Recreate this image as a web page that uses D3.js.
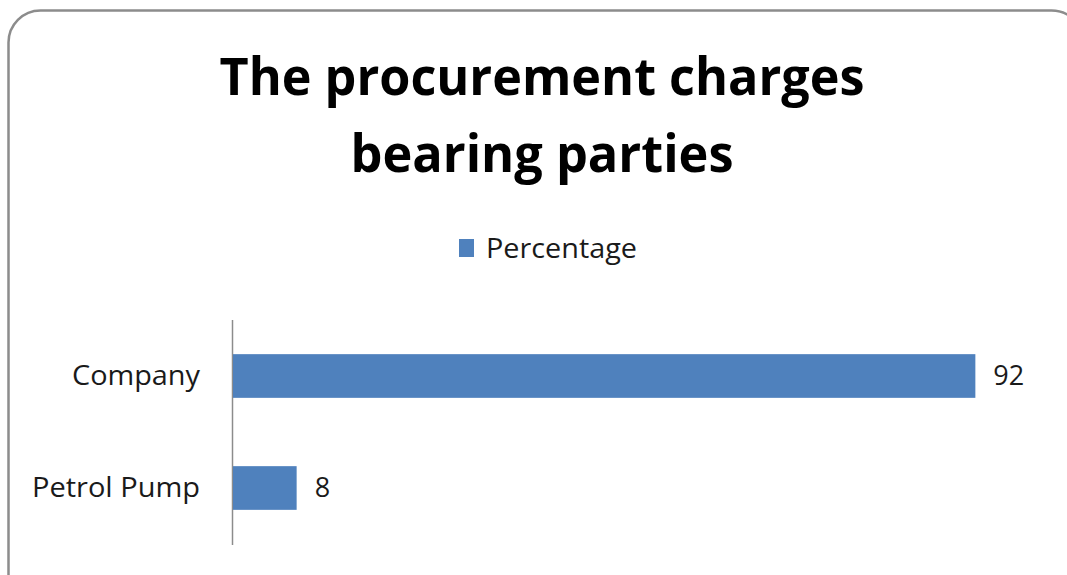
<!DOCTYPE html>
<html lang="en">
<head>
  <meta charset="UTF-8">
  <title>The procurement charges bearing parties</title>
  <style>
    body { margin: 0; padding: 0; background: #fff; }
    svg { display: block; font-family: "Open Sans", "DejaVu Sans", sans-serif; }
    .cat { font-size: 27px; fill: #1a1a1a; }
    .val { font-size: 27px; fill: #1a1a1a; }
    .title { font-size: 52px; font-weight: bold; fill: #000; }
  </style>
</head>
<body>
<div id="chart"></div>
<script src="https://d3js.org/d3.v7.min.js"></script>
<script>
  // data
  const categories = ["Company", "Petrol Pump"];
  const values = [92, 8];
  const seriesName = "Percentage";
  const titleLines = ["The procurement charges", "bearing parties"];

  const width = 1067, height = 575;
  const barColor = "#4f81bd";

  const svg = d3.select("#chart").append("svg")
      .attr("width", width)
      .attr("height", height);

  // outer frame with rounded corners (right/bottom run off the picture)
  svg.append("rect")
      .attr("x", 8.5).attr("y", 10.5)
      .attr("width", 1075).attr("height", 600)
      .attr("rx", 32)
      .attr("fill", "#fff")
      .attr("stroke", "#8c8c8c")
      .attr("stroke-width", 2.5);

  // title
  const titleWidths = [645, 383];
  svg.selectAll("text.title")
    .data(titleLines)
    .enter()
    .append("text")
      .attr("class", "title")
      .attr("x", 542)
      .attr("y", (d, i) => 95 + i * 77)
      .attr("text-anchor", "middle")
      .attr("textLength", (d, i) => titleWidths[i])
      .attr("lengthAdjust", "spacingAndGlyphs")
      .text(d => d);

  // legend
  svg.append("rect")
      .attr("x", 459).attr("y", 239)
      .attr("width", 15).attr("height", 18)
      .attr("fill", barColor);
  svg.append("text")
      .attr("class", "cat")
      .attr("x", 486).attr("y", 258)
      .attr("textLength", 151)
      .attr("lengthAdjust", "spacingAndGlyphs")
      .text(seriesName);

  // scales
  const x = d3.scaleLinear().domain([0, 100]).range([232, 1040]);
  const y = d3.scaleBand().domain(categories).range([320, 544]).paddingInner(0.61).paddingOuter(0.305);

  // category axis line
  svg.append("line")
      .attr("x1", 232.5).attr("x2", 232.5)
      .attr("y1", 320).attr("y2", 545)
      .attr("stroke", "#8c8c8c")
      .attr("stroke-width", 1.5);

  svg.selectAll("rect.bar")
    .data(categories)
    .enter()
    .append("rect")
      .attr("class", "bar")
      .attr("x", x(0) + 1)
      .attr("y", d => y(d))
      .attr("width", (d, i) => x(values[i]) - x(0) - 1)
      .attr("height", y.bandwidth())
      .attr("fill", barColor);

  const catWidths = [128, 168];
  svg.selectAll("text.catlabel")
    .data(categories)
    .enter()
    .append("text")
      .attr("class", "cat")
      .attr("x", 200)
      .attr("y", d => y(d) + y.bandwidth() / 2)
      .attr("dy", "0.35em")
      .attr("text-anchor", "end")
      .attr("textLength", (d, i) => catWidths[i])
      .attr("lengthAdjust", "spacingAndGlyphs")
      .text(d => d);

  svg.selectAll("text.val")
    .data(categories)
    .enter()
    .append("text")
      .attr("class", "val")
      .attr("x", (d, i) => x(values[i]) + 18)
      .attr("y", d => y(d) + y.bandwidth() / 2)
      .attr("dy", "0.35em")
      .text((d, i) => values[i]);
</script>
</body>
</html>
